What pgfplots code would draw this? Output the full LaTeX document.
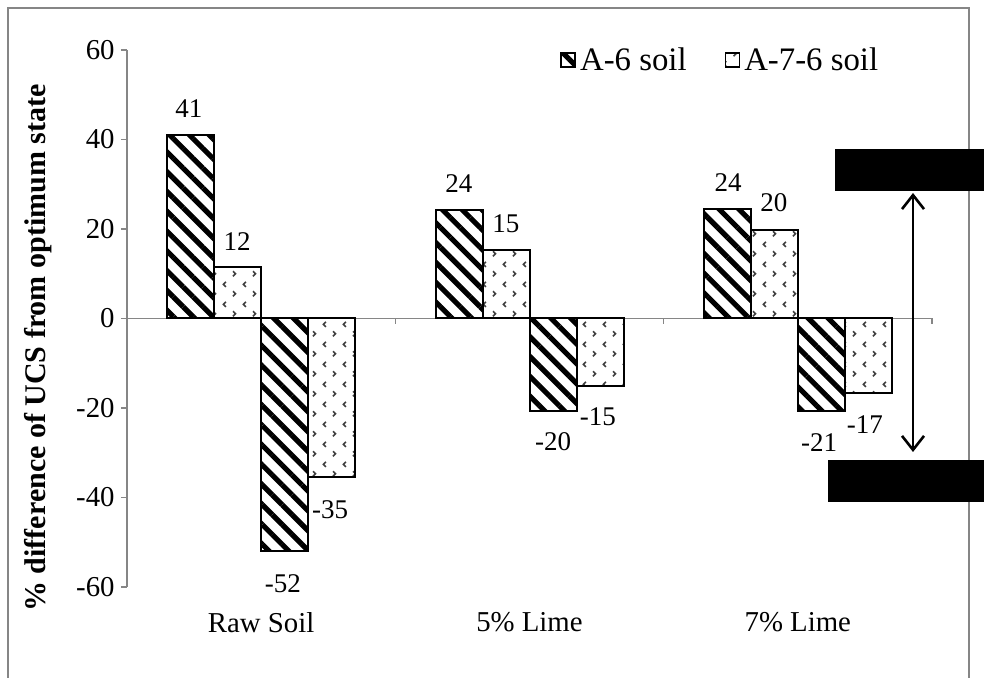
\documentclass[border=0pt]{standalone}
\usepackage{fontspec}
\setmainfont{Liberation Serif}
\usepackage{pgfplots}
\pgfplotsset{compat=1.18}
\usetikzlibrary{patterns, patterns.meta, arrows.meta}
\definecolor{axisgray}{HTML}{868686}
\definecolor{dotgray}{HTML}{404040}

% small < > marks, like the Excel "divot" fill
\tikzdeclarepattern{
  name=divots,
  type=uncolored,
  bounding box={(0pt,0pt) and (10pt,10pt)},
  tile size={(10pt,10pt)},
  code={
    \draw[line width=0.8pt] (3.1pt,5.8pt) -- (1.8pt,7.1pt) -- (3.1pt,8.4pt);
    \draw[line width=0.8pt] (6.8pt,0.9pt) -- (8.1pt,2.2pt) -- (6.8pt,3.5pt);
  }
}

\pgfplotsset{
  mybar/.style={ybar, bar width=23.5pt, draw=black, line width=1pt,
    legend image code/.code={\draw[##1, line width=0.8pt] (0pt,-3.5pt) rectangle (7pt,3.5pt);}},
  stripes/.style={mybar, pattern={Lines[angle=-45,distance=7pt,line width=2.6pt]}, pattern color=black},
  dots/.style={mybar, pattern=divots, pattern color=dotgray},
}

\begin{document}
\begin{tikzpicture}[font=\fontsize{13.5}{16}\selectfont]
\useasboundingbox (-63.5pt,-45.5pt) rectangle (428.5pt,293.5pt);
\draw[axisgray, line width=0.75pt] (-59.5pt,-46pt) rectangle (421pt,289.5pt);
\begin{axis}[
  scale only axis, width=402.5pt, height=268.5pt,
  xmin=-0.5, xmax=2.5, ymin=-60, ymax=60,
  axis x line*=bottom, axis y line*=left,
  x axis line style={draw=none},
  y axis line style={draw=axisgray, line width=0.6pt},
  xtick={0,1,2}, xticklabels={Raw Soil, 5\% Lime, 7\% Lime},
  xtick style={draw=none},
  xticklabel style={yshift=-6pt},
  ytick={-60,-40,...,60},
  ytick style={draw=axisgray, line width=0.6pt},
  yticklabel style={inner sep=3pt},
  tick label style={font=\fontsize{14.4}{17}\selectfont},
  tick align=outside, major tick length=3pt,
  /pgf/number format/assume math mode=true,
  ylabel={\% difference of UCS from optimum state},
  ylabel style={at={(axis description cs:-0.110,0.445)}, anchor=center,
    font=\fontsize{15}{18}\selectfont\bfseries},
  legend style={draw=none, fill=none, at={(axis description cs:0.538,0.981)}, anchor=west,
    legend columns=-1, inner sep=0pt, font=\fontsize{16.4}{19}\selectfont,
    /tikz/every even column/.append style={column sep=17pt}},
  clip=false,
]
\draw[axisgray, line width=0.6pt] (axis cs:-0.5,0) -- (axis cs:2.5,0) -- ++(0pt,-3pt);
\draw[axisgray, line width=0.6pt] (axis cs:0.5,0) -- ++(0pt,-3pt);
\draw[axisgray, line width=0.6pt] (axis cs:1.5,0) -- ++(0pt,-3pt);

% dry side
\addplot[stripes, bar shift=-35.25pt] coordinates {(0,41) (1,24.2) (2,24.5)};
\addplot[dots,    bar shift=-11.75pt] coordinates {(0,11.6) (1,15.2) (2,19.8)};
% wet side
\addplot[stripes, bar shift=11.75pt]  coordinates {(0,-52) (1,-20.6) (2,-20.6)};
\addplot[dots,    bar shift=35.25pt]  coordinates {(0,-35.5) (1,-15) (2,-16.7)};
\legend{A-6 soil, A-7-6 soil}

% data labels where the source put them
\addplot[only marks, mark=none, nodes near coords, point meta=explicit symbolic,
  every node near coord/.append style={anchor=center, inner sep=0pt}]
  table[meta=lab, row sep=\\] {
  x y lab\\
  -0.269 46.8 41\\
  -0.090 17.3 12\\
  0.081 -59.3 -52\\
  0.257 -42.8 -35\\
  0.737 30.1 24\\
  0.912 21.1 15\\
  1.088 -27.6 -20\\
  1.255 -22.0 -15\\
  1.740 30.3 24\\
  1.911 25.8 20\\
  2.079 -27.8 -21\\
  2.250 -23.8 -17\\
};
\end{axis}
% redacted boxes and the range arrow
\fill[black] (354pt,198pt) rectangle (428.5pt,219pt);
\fill[black] (350.5pt,42.5pt) rectangle (428.5pt,63.5pt);
\draw[line width=1.3pt, {Straight Barb[length=7pt,width=11pt]}-{Straight Barb[length=7pt,width=11pt]}]
  (393pt,197pt) -- (393pt,67.5pt);
\end{tikzpicture}
\end{document}
